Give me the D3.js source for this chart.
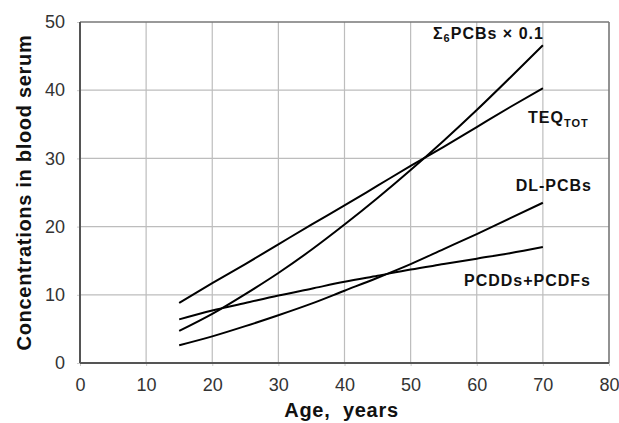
<!DOCTYPE html>
<html>
<head>
<meta charset="utf-8">
<script src="https://cdn.jsdelivr.net/npm/d3@7"></script>
<style>
  html, body { margin: 0; padding: 0; background: #fff; }
  svg { display: block; font-family: "Liberation Sans", Arial, sans-serif; }
  .tick text { fill: #333; font-size: 18px; }
  .title { font-weight: bold; font-size: 20px; fill: #111; letter-spacing: 0.7px; }
  .lbl { font-weight: bold; font-size: 16px; fill: #111; letter-spacing: 1px; }
</style>
</head>
<body>
<svg id="chart" width="619" height="423"></svg>
<script>
// Ages (years) and serum concentrations
const ages = [15, 20, 25, 30, 35, 40, 45, 50, 55, 60, 65, 70];
const sumPCBs = [4.7, 7.2, 10.1, 13.2, 16.6, 20.3, 24.2, 28.3, 32.6, 37.1, 41.8, 46.6];
const teqTot = [8.8, 11.7, 14.5, 17.4, 20.3, 23.1, 26.0, 28.9, 31.7, 34.6, 37.5, 40.3];
const dlPCBs = [2.6, 3.9, 5.4, 7.0, 8.7, 10.6, 12.5, 14.5, 16.7, 18.9, 21.2, 23.5];
const pcdds = [6.4, 7.7, 8.8, 9.9, 10.9, 11.9, 12.8, 13.7, 14.5, 15.3, 16.1, 17.0];

const xTicks = [0, 10, 20, 30, 40, 50, 60, 70, 80];
const yTicks = [0, 10, 20, 30, 40, 50];

const svg = d3.select("#chart");
const m = { left: 80, right: 10, top: 22, bottom: 60 };
const W = 619, H = 423;

const x = d3.scaleLinear().domain([0, 80]).range([m.left, W - m.right]);
const y = d3.scaleLinear().domain([0, 50]).range([H - m.bottom, m.top]);

// grid
svg.append("g")
  .selectAll("line")
  .data(xTicks.slice(1, -1))
  .join("line")
  .attr("x1", d => x(d)).attr("x2", d => x(d))
  .attr("y1", y(0)).attr("y2", y(50))
  .attr("stroke", "#bdbdbd").attr("stroke-width", 1.2);

svg.append("g")
  .selectAll("line")
  .data(yTicks.slice(1, -1))
  .join("line")
  .attr("x1", x(0)).attr("x2", x(80))
  .attr("y1", d => y(d)).attr("y2", d => y(d))
  .attr("stroke", "#bdbdbd").attr("stroke-width", 1.2);

// axes
const xAxis = svg.append("g")
  .attr("transform", `translate(0,${y(0)})`)
  .call(d3.axisBottom(x).tickValues(xTicks).tickSize(3).tickPadding(12));
const yAxis = svg.append("g")
  .attr("transform", `translate(${x(0)},0)`)
  .call(d3.axisLeft(y).tickValues(yTicks).tickSize(3).tickPadding(12));
[xAxis, yAxis].forEach(a => {
  a.select(".domain").remove();
  a.selectAll(".tick line").attr("stroke", "#ccc");
  a.selectAll(".tick text").attr("font-family", null).attr("font-size", null);
});

// frame
svg.append("line").attr("x1", x(80)).attr("x2", x(80)).attr("y1", y(0)).attr("y2", y(50))
  .attr("stroke", "#777").attr("stroke-width", 1.6);
svg.append("line").attr("x1", x(0)).attr("x2", x(80)).attr("y1", y(50)).attr("y2", y(50))
  .attr("stroke", "#777").attr("stroke-width", 1.6);
svg.append("line").attr("x1", x(0)).attr("x2", x(0)).attr("y1", y(0)).attr("y2", y(50))
  .attr("stroke", "#555").attr("stroke-width", 2);
svg.append("line").attr("x1", x(0)).attr("x2", x(80)).attr("y1", y(0)).attr("y2", y(0))
  .attr("stroke", "#555").attr("stroke-width", 2);

// series
const line = d3.line()
  .x((d, i) => x(ages[i]))
  .y(d => y(d))
  .curve(d3.curveMonotoneX);

[sumPCBs, teqTot, dlPCBs, pcdds].forEach(s => {
  svg.append("path")
    .attr("d", line(s))
    .attr("fill", "none")
    .attr("stroke", "#000")
    .attr("stroke-width", 2);
});

// series labels
const t1 = svg.append("text").attr("class", "lbl")
  .attr("x", x(70) + 1).attr("y", 39).attr("text-anchor", "end");
t1.append("tspan").text("Σ");
t1.append("tspan").attr("font-size", 11).attr("dy", 3).text("6");
t1.append("tspan").attr("dy", -3).text("PCBs  × 0.1");

const t2 = svg.append("text").attr("class", "lbl")
  .attr("x", 528).attr("y", 123);
t2.append("tspan").text("TEQ");
t2.append("tspan").attr("font-size", 11).attr("dy", 4).text("TOT");

svg.append("text").attr("class", "lbl")
  .attr("x", 592).attr("y", 191).attr("text-anchor", "end").text("DL-PCBs");
svg.append("text").attr("class", "lbl")
  .attr("x", 591).attr("y", 286).attr("text-anchor", "end").text("PCDDs+PCDFs");

// axis titles
svg.append("text").attr("class", "title")
  .attr("x", (x(0) + x(80)) / 2 - 3).attr("y", 417)
  .attr("text-anchor", "middle")
  .attr("xml:space", "preserve")
  .text("Age,  years");

svg.append("text").attr("class", "title")
  .attr("transform", `translate(31,${(y(0) + y(50)) / 2}) rotate(-90)`)
  .attr("text-anchor", "middle")
  .text("Concentrations in blood serum");
</script>
</body>
</html>
